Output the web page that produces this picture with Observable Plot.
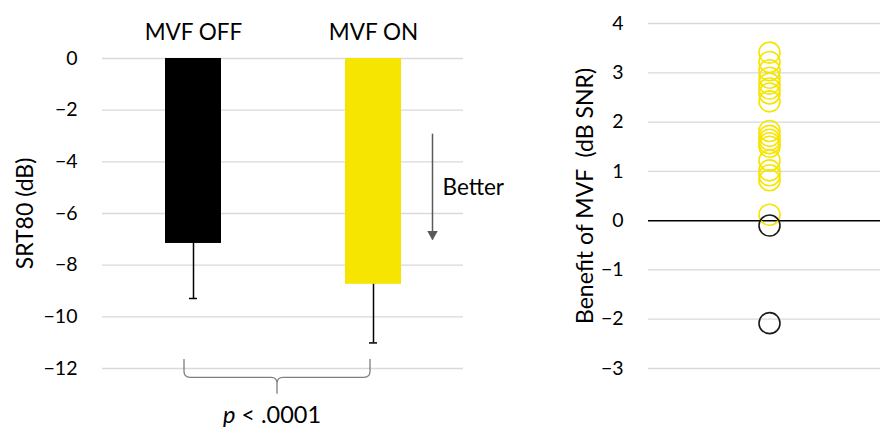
<!DOCTYPE html>
<html><head><meta charset="utf-8">
<script src="https://cdn.jsdelivr.net/npm/d3@7"></script>
<script src="https://cdn.jsdelivr.net/npm/@observablehq/plot@0.6"></script>
<style>
body{margin:0;background:#fff;font-family:Lato,sans-serif}
#wrap{display:flex;width:880px;height:428px;overflow:hidden}
svg{overflow:visible}
</style></head><body><div id="wrap"></div>
<script>
// ---- data ----
const categories = ["MVF OFF", "MVF ON"];
const means = [-7.16, -8.74];
const errors = [2.13, 2.27];
const barColors = ["#000000", "#F5E500"];
const leftTicks = [0, -2, -4, -6, -8, -10, -12];
const arrowFrom = -2.93, arrowTo = -7.03;
const betterY = -5;
const betterText = "Better";
const pText = ["p", " < .0001"];
const leftLabel = "SRT80 (dB)";

const benefitYellow = [3.41, 3.22, 3.05, 2.9, 2.78, 2.68, 2.58, 2.42, 1.82, 1.72, 1.64, 1.57, 1.5, 1.22, 1.02, 0.92, 0.82, 0.12];
const benefitBlack = [-0.1, -2.08];
const rightTicks = [4, 3, 2, 1, 0, -1, -2, -3];
const rightLabel = "Benefit of MVF\u00a0 (dB SNR)";

// ---- left chart ----
const bars = categories.map((c, i) => ({cat: c, mean: means[i], low: means[i] - errors[i]}));
const arrowData = [{cat: "MVF ON", y1: arrowFrom, y2: arrowTo}];

function braceMark(index, scales) {
  const x = scales.x, y = scales.y, bw = x.bandwidth();
  const L = x(categories[0]) + bw / 2 - 9;
  const R = x(categories[1]) + bw / 2 - 3;
  const C = (L + R) / 2;
  const top = y(-11.65), bot = y(-12.36), tip = y(-13.0);
  const r = 6;
  const g = d3.create("svg:g");
  g.append("path")
    .attr("d", `M${L},${top} L${L},${bot - r} Q${L},${bot} ${L + r},${bot} L${C - r},${bot} Q${C},${bot} ${C},${bot + r} L${C},${tip} M${C},${bot + r} Q${C},${bot} ${C + r},${bot} L${R - r},${bot} Q${R},${bot} ${R},${bot - r} L${R},${top}`)
    .attr("fill", "none").attr("stroke", "#7f7f7f").attr("stroke-width", 1.3);
  const t = g.append("text")
    .attr("x", C - 5).attr("y", y(-13.8)).attr("dy", "0.35em")
    .attr("text-anchor", "middle").attr("font-size", 23.5).attr("fill", "#000");
  t.append("tspan").attr("font-style", "italic").text(pText[0]);
  t.append("tspan").attr("xml:space", "preserve").style("white-space", "pre").text(pText[1]);
  return g.node();
}

const left = Plot.plot({
  width: 540, height: 428,
  marginLeft: 102, marginRight: 77, marginTop: 58, marginBottom: 60,
  style: {fontFamily: "Lato, sans-serif", fontSize: "19.5px", color: "#000", background: "transparent", overflow: "visible"},
  x: {domain: categories, paddingInner: 0.69, paddingOuter: 0.345, axis: null},
  y: {domain: [-12, 0]},
  color: {domain: categories, range: barColors},
  marks: [
    Plot.gridY(leftTicks, {stroke: "#d9d9d9", strokeOpacity: 1, strokeWidth: 1.3}),
    Plot.axisY(leftTicks, {tickSize: 0, tickPadding: 25, fontSize: 19.5, label: null}),
    Plot.text(categories, {x: d => d, frameAnchor: "top", dy: -34, fontSize: 22.5, fill: "#000"}),
    Plot.barY(bars, {x: "cat", y: "mean", fill: "cat"}),
    Plot.ruleX(bars, {x: "cat", y1: "mean", y2: "low", stroke: "#000", strokeWidth: 1.5}),
    Plot.tickY(bars, {x: "cat", y: "low", insetLeft: 24, insetRight: 24, stroke: "#000", strokeWidth: 1.5}),
    Plot.ruleX(arrowData, {x: "cat", y1: "y1", y2: "y2", dx: 59, stroke: "#595959", strokeWidth: 1.5}),
    Plot.dot(arrowData, {x: "cat", y: "y2", dx: 59, dy: -6, symbol: "triangle", rotate: 180, r: 3.9, fill: "#595959", stroke: null}),
    Plot.text(arrowData, {x: "cat", y: () => betterY, text: () => betterText, dx: 69, textAnchor: "start", fontSize: 22.5, fill: "#000"}),
    Plot.text([leftLabel], {frameAnchor: "left", rotate: -90, dx: -77, textAnchor: "middle", fontSize: 23, fill: "#000"}),
    braceMark
  ]
});

// ---- right chart ----
const right = Plot.plot({
  width: 340, height: 428,
  marginLeft: 108, marginRight: 0, marginTop: 23, marginBottom: 60,
  style: {fontFamily: "Lato, sans-serif", fontSize: "19.5px", color: "#000", background: "transparent", overflow: "visible"},
  x: {type: "point", domain: ["MVF"], align: 0.52, axis: null},
  y: {domain: [-3, 4]},
  marks: [
    Plot.gridY(rightTicks.filter(t => t !== 0), {stroke: "#d9d9d9", strokeOpacity: 1, strokeWidth: 1.3}),
    Plot.ruleY([0], {stroke: "#000", strokeWidth: 1.5}),
    Plot.axisY(rightTicks, {tickSize: 0, tickPadding: 25, fontSize: 19.5, label: null}),
    Plot.dot(benefitYellow, {x: () => "MVF", y: d => d, r: 10.5, stroke: "#F5E500", strokeWidth: 1.6, fill: "none"}),
    Plot.dot(benefitBlack, {x: () => "MVF", y: d => d, r: 10.5, stroke: "#1a1a1a", strokeWidth: 1.6, fill: "none"}),
    Plot.text([rightLabel], {frameAnchor: "left", rotate: -90, dx: -63, textAnchor: "middle", fontSize: 23, fill: "#000"})
  ]
});

document.getElementById("wrap").append(left, right);
</script></body></html>
